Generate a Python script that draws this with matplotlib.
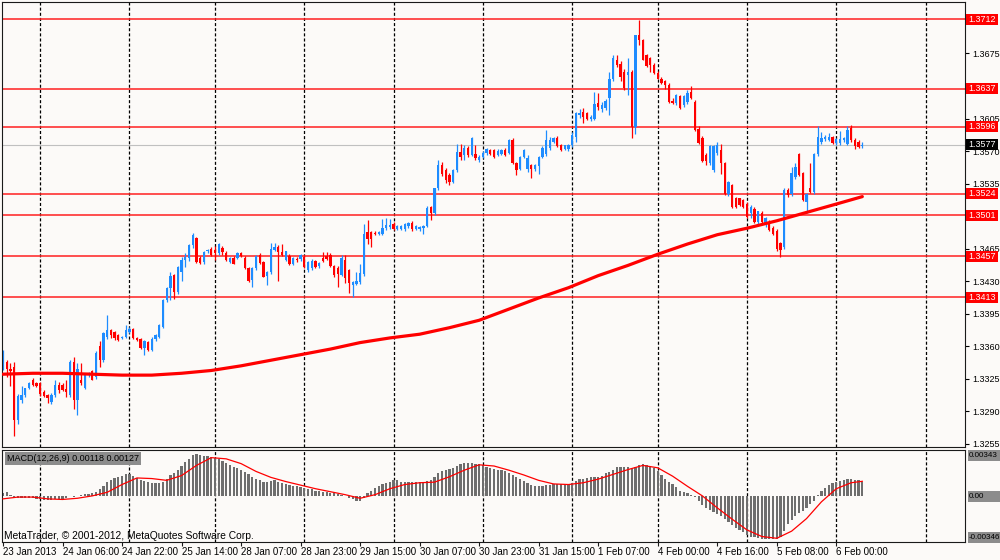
import matplotlib
matplotlib.use('Agg')
import matplotlib.pyplot as plt
from matplotlib.patches import Rectangle
from matplotlib.transforms import blended_transform_factory

plt.rcParams['font.family'] = ['Liberation Sans Narrow', 'Liberation Sans', 'DejaVu Sans']
plt.rcParams['lines.scale_dashes'] = False

# ---------------- data (prices in pips above 1.3000) ----------------
BASE = 1.3
opens = [336,343,336,338,281,302,308,315,324,320,320,311,308,300,308,318,318,314,308,343,
         302,324,315,329,333,327,360,345,370,377,375,372,369,370,375,379,369,368,358,365,
         356,368,370,381,410,423,437,418,440,453,455,469,476,455,451,462,465,464,460,466,
         460,451,455,455,460,455,444,431,444,458,451,436,440,464,467,461,453,457,449,454,
         454,456,442,444,452,446,455,457,458,446,444,437,453,442,426,427,429,438,483,483,
         482,481,481,487,488,492,486,486,486,489,493,486,486,487,489,510,503,530,555,550,
         544,537,550,569,566,573,566,567,560,564,568,571,571,566,567,571,568,582,557,551,
         564,551,555,551,554,564,567,573,580,584,577,572,572,576,585,609,612,611,604,604,
         622,615,616,627,648,668,664,655,652,655,596,695,689,673,670,663,654,648,645,641,
         624,622,629,619,623,634,623,594,584,566,557,550,568,571,557,524,533,519,519,517,
         513,503,508,494,503,490,494,487,484,471,467,528,524,542,567,546,515,530,526,567,
         580,583,582,585,579,579,582,578,595,582,580,575]
highs = [356,345,342,343,309,317,315,322,326,322,322,313,309,310,324,322,320,324,345,349,
         342,342,331,332,335,355,366,375,394,379,376,373,371,383,381,380,370,369,367,366,
         370,373,384,411,424,440,438,446,456,460,470,482,478,457,462,465,467,468,471,468,
         462,456,457,461,461,457,445,445,458,460,452,441,471,471,469,470,462,459,456,456,
         459,458,452,454,453,451,461,461,460,447,446,458,458,443,430,440,449,492,496,484,
         484,484,497,498,497,494,490,490,493,494,495,490,489,490,511,511,530,560,558,552,
         546,551,578,578,576,575,585,576,566,570,573,572,572,572,572,573,583,584,558,565,
         572,566,556,556,565,575,593,585,585,586,578,577,578,590,612,615,616,612,609,634,
         632,623,626,655,673,673,667,658,670,657,695,711,690,674,671,665,656,650,646,643,
         627,631,630,630,636,640,625,597,586,568,577,577,580,578,558,538,535,521,520,518,
         515,512,510,506,505,499,496,489,486,472,530,530,553,557,568,548,525,557,568,597,
         590,587,589,586,584,592,585,597,598,584,582,580]
lows = [334,327,317,263,276,299,306,314,317,316,307,305,299,298,306,310,312,305,306,293,
        286,318,314,327,324,325,338,343,368,369,367,366,368,369,374,368,366,357,351,355,
        355,366,369,380,408,410,411,416,430,445,452,466,450,449,449,460,457,453,458,458,
        452,450,448,454,456,443,429,424,442,449,434,426,438,463,430,457,452,447,447,451,
        452,444,440,442,444,444,451,453,445,434,424,436,428,417,413,426,427,436,470,467,
        480,480,480,485,486,485,485,485,484,487,484,485,484,481,488,496,501,528,543,536,
        533,536,548,560,560,564,565,560,558,562,566,566,563,565,566,565,567,556,544,550,
        563,548,541,549,545,562,565,571,579,574,570,571,570,574,580,606,600,603,602,603,
        614,612,614,609,645,660,645,636,630,584,588,684,668,660,655,653,647,642,637,622,
        621,620,615,617,621,626,592,578,558,555,555,547,566,545,523,522,509,509,511,509,
        498,498,493,492,493,488,484,480,462,456,465,521,522,540,543,516,503,525,524,565,
        578,581,581,578,577,577,580,577,580,572,573,573]
closes = [354,336,333,281,307,308,315,320,318,317,309,307,304,308,318,313,313,311,343,302,
          336,321,331,331,324,353,345,374,377,372,369,367,370,377,379,369,367,358,366,356,
          368,372,383,410,423,436,418,445,453,456,469,480,451,450,461,464,458,460,470,461,
          453,455,449,460,457,444,430,444,457,450,435,440,465,467,461,458,462,448,455,453,
          458,445,451,452,445,450,452,454,446,437,438,455,433,428,429,430,439,481,475,475,
          481,483,487,491,491,486,489,489,492,493,486,489,488,489,509,503,530,555,545,539,
          537,550,569,564,573,566,584,563,564,568,572,567,564,570,571,566,582,557,550,564,
          571,562,551,555,564,573,582,582,584,575,571,576,576,587,611,611,607,605,607,621,
          617,619,624,648,670,663,650,638,655,596,695,689,668,661,663,654,648,643,641,623,
          622,630,616,629,632,627,593,579,559,559,575,575,577,557,524,537,510,510,512,510,
          499,510,494,505,494,498,485,481,465,464,528,523,546,553,544,517,524,526,567,585,
          584,585,585,579,583,583,584,593,582,575,574,577]

ma_bars = [0, 8, 16, 24, 32, 40, 48, 56, 64, 72, 80, 88, 96, 104, 112, 120, 128, 136,
           144, 152, 160, 168, 176, 184, 192, 200, 208, 216, 224, 231]
ma_vals = [330, 331, 331, 330, 329, 329, 331, 334, 339, 345, 351, 357, 364, 369, 373, 380,
           388, 400, 412, 423, 436, 447, 459, 470, 480, 487, 495, 504, 513, 521]

# MACD histogram and signal in units of 0.0001
macd_hist = [3.0,3.5,1.0,-1.0,-1.5,-1.5,-1.0,-1.0,-1.5,-2.0,
             -2.5,-3.0,-3.0,-3.0,-2.5,-2.5,-2.0,-1.0,0.5,-0.5,
             0.5,1.0,2.0,2.0,2.5,4.0,6.0,8.5,12.0,14.0,
             15.5,16.5,17.5,18.5,18.5,17.0,15.5,14.0,13.0,12.0,
             11.5,11.0,11.5,12.5,15.0,18.0,20.0,22.0,25.5,28.5,
             31.0,34.5,35.5,35.0,34.0,33.5,33.0,32.0,31.0,29.5,
             28.0,26.5,25.0,23.5,22.0,20.5,18.5,16.5,15.0,14.0,
             12.5,12.0,13.0,13.5,12.5,11.5,10.5,10.0,9.0,8.5,
             8.0,7.0,6.5,6.0,5.0,4.5,4.0,3.5,3.0,2.5,
             2.0,1.5,0.5,-1.0,-2.5,-3.5,-4.0,-1.0,2.5,5.0,
             7.0,9.0,10.5,11.5,12.5,13.5,13.5,12.5,12.5,12.5,
             12.0,12.0,12.5,12.0,13.0,13.5,16.0,19.5,21.5,22.5,
             23.0,24.0,25.5,27.0,28.0,28.0,28.0,27.5,27.0,26.5,
             25.0,24.0,23.0,22.5,22.0,21.5,20.0,18.0,16.0,14.5,
             13.0,11.5,10.0,9.0,8.5,9.0,9.5,10.0,10.5,10.5,
             10.5,10.5,10.5,11.0,13.0,14.5,15.0,15.5,16.0,16.5,
             16.5,17.5,19.5,20.5,22.5,24.5,25.0,24.5,24.5,24.0,
             25.0,26.5,27.0,26.5,25.5,24.0,21.0,18.0,15.0,12.5,
             10.5,8.0,5.0,3.5,2.5,1.5,-0.5,-3.5,-7.0,-9.5,
             -11.5,-13.0,-14.5,-16.0,-18.5,-21.0,-24.0,-26.0,-28.0,-30.0,
             -32.0,-33.5,-34.0,-35.0,-35.5,-35.5,-35.5,-36.0,-36.0,-34.0,
             -29.0,-23.0,-19.5,-16.5,-14.0,-12.0,-9.5,-6.5,-3.5,1.5,
             5.0,7.5,9.5,11.0,12.5,13.0,13.5,14.5,14.5,14.0,
             13.5,11.8]
signal_bars = [0, 4, 8, 12, 16, 20, 24, 28, 32, 36, 40, 44, 48, 52, 56, 60, 64, 68, 72, 76,
               80, 84, 88, 92, 96, 100, 104, 108, 112, 116, 120, 124, 128, 132, 136, 140,
               144, 148, 152, 156, 160, 164, 168, 172, 176, 180, 184, 188, 192, 196, 200,
               204, 208, 212, 216, 220, 224, 228, 231]
signal_vals = [-2.0, -0.5, -0.5, -2.0, -2.5, -1.5, 0.5, 3.5, 10.0, 15.5, 15.0, 13.5, 17.5,
               26.0, 32.5, 31.5, 27.5, 21.0, 16.0, 12.5, 9.5, 6.5, 4.0, 1.5, -1.5, 1.5, 6.5,
               10.0, 11.5, 12.0, 16.5, 22.0, 26.5, 25.5, 22.0, 18.0, 13.5, 10.5, 10.0, 11.5,
               14.5, 18.5, 22.5, 26.0, 24.0, 17.0, 8.5, 0.5, -9.5, -19.0, -28.0, -33.5, -35.0,
               -29.0, -18.5, -4.5, 6.5, 11.5, 12.7]

levels = [1.3712, 1.3637, 1.3596, 1.3524, 1.3501, 1.3457, 1.3413]
bid = 1.3577
price_ticks = [1.3255, 1.3290, 1.3325, 1.3360, 1.3395, 1.3430, 1.3465, 1.3500,
               1.3535, 1.3570, 1.3605, 1.3640, 1.3675, 1.3710]
hidden_ticks = [1.3500, 1.3640, 1.3710]   # fully covered by the level boxes
macd_labels = [("0.00343", 34.3), ("0.00", 0.0), ("-0.00346", -34.6)]
macd_title = "MACD(12,26,9) 0.00118 0.00127"
date_bars = [0, 16, 32, 48, 64, 80, 96, 112, 128, 144, 160, 176, 192, 208, 224]
date_labels = ['23 Jan 2013', '24 Jan 06:00', '24 Jan 22:00', '25 Jan 14:00', '28 Jan 07:00',
               '28 Jan 23:00', '29 Jan 15:00', '30 Jan 07:00', '30 Jan 23:00', '31 Jan 15:00',
               '1 Feb 07:00', '4 Feb 00:00', '4 Feb 16:00', '5 Feb 08:00', '6 Feb 00:00']
grid_bars = [10, 34, 57, 81, 105, 129, 153, 176, 200, 224, 248]

# ---------------- style ----------------
BG = '#FCFAF8'
BULL = '#1E8CFF'
BEAR = '#FF0000'
W, H = 1000, 560


def rect(l, t, r, b):
    return [l / W, 1 - b / H, (r - l) / W, (b - t) / H]


fig = plt.figure(figsize=(10, 5.6), dpi=100)
fig.patch.set_facecolor(BG)
ax = fig.add_axes(rect(2, 2, 965, 447))
ax2 = fig.add_axes(rect(2, 450, 965, 542))
for a in (ax, ax2):
    a.set_facecolor(BG)
    a.set_xlim(-0.27, 258.6)
    for s in a.spines.values():
        s.set_color('#1a1a1a')
        s.set_linewidth(0.8)
ax.set_xticks([])
ax2.set_xticks(date_bars)
ax2.tick_params(axis='x', direction='out', length=3, width=0.8, color='#1a1a1a',
                labelbottom=False)

ax.set_ylim(1.32517, 1.37303)
ax2.set_ylim(-38.1, 38.9)

# pixel helpers for the right-hand label boxes
AX_W = 963.0
BOX_X0 = (966 - 2) / AX_W
BOX_W = (998 - 966) / AX_W
BOX_XC = BOX_X0 + BOX_W / 2
FIG_RIGHT = (1000 - 2) / AX_W
main_per_px = (1.37303 - 1.32517) / 445.0
macd_per_px = (38.9 + 38.1) / 92.0
BOX_HPX = 11

# grid
for b in grid_bars:
    for a in (ax, ax2):
        a.axvline(b, color='black', lw=0.9, linestyle=(0, (2.2, 1.5)), zorder=1)

# levels
for lv in levels:
    ax.axhline(lv, color='#FF2020', lw=1.1, zorder=1.5)
ax.axhline(bid, color='#C0C0C0', lw=0.8, zorder=1.4)

# candles
px = lambda v: BASE + v / 10000.0
idx = list(range(len(closes)))
for i in idx:
    o, h, l, c = px(opens[i]), px(highs[i]), px(lows[i]), px(closes[i])
    col = BULL if c >= o else BEAR
    ax.vlines(i, l, h, color=col, lw=0.9, zorder=2)
    bot = min(o, c)
    hgt = max(abs(c - o), 0.00006)
    ax.bar(i, hgt, bottom=bot, width=0.62, color=col, linewidth=0, zorder=2.1)

# moving average
ax.plot(ma_bars, [px(v) for v in ma_vals], color='#FF0000', lw=2.3,
        solid_capstyle='round', zorder=3)

# price axis
ax.yaxis.tick_right()
ax.set_yticks(price_ticks)
ax.set_yticklabels(['' if v in hidden_ticks else f'{v:.4f}' for v in price_ticks])
ax.tick_params(axis='y', direction='out', length=3, width=0.8, pad=2,
               labelsize=6.5, colors='black')

tr = blended_transform_factory(ax.transAxes, ax.transData)


def price_box(value, fc):
    hh = BOX_HPX * main_per_px
    ax.add_patch(Rectangle((BOX_X0, value - hh / 2), BOX_W, hh, transform=tr,
                           fc=fc, ec='none', zorder=5, clip_on=False))
    ax.text(BOX_XC, value, f'{value:.4f}', transform=tr, ha='center', va='center',
            color='white', fontsize=6.4, zorder=6, clip_on=False)


for lv in levels:
    price_box(lv, '#FF0000')
price_box(bid, 'black')

# MACD panel
ax2.bar(idx, macd_hist, width=0.6, color='#6e6e6e', linewidth=0, zorder=2)
ax2.plot(signal_bars, signal_vals, color='#FF0000', lw=0.9, zorder=3)
ax2.set_yticks([])
tr2 = blended_transform_factory(ax2.transAxes, ax2.transData)
for txt, v in macd_labels:
    hh = BOX_HPX * macd_per_px
    x0 = BOX_X0 + 0.002
    ax2.add_patch(Rectangle((x0, v - hh / 2), FIG_RIGHT - x0, hh,
                            transform=tr2, fc='#8c8c8c', ec='none', zorder=5,
                            clip_on=False))
    ax2.text(BOX_X0 + 0.0028, v, txt, transform=tr2, ha='left', va='center',
             color='black', fontsize=5.8, zorder=6, clip_on=False)
ax2.text(0.005, 0.905, macd_title, transform=ax2.transAxes, ha='left', va='center',
         color='black', fontsize=6.5, zorder=6,
         bbox=dict(boxstyle='square,pad=0.2', fc='#8c8c8c', ec='none'))
ax2.text(0.002, 0.065, 'MetaTrader, \u00a9 2001-2012, MetaQuotes Software Corp.',
         transform=ax2.transAxes, ha='left', va='center', color='black',
         fontsize=7.4, zorder=6)

# date labels
trd = blended_transform_factory(ax2.transData, fig.transFigure)
for b, lab in zip(date_bars, date_labels):
    ax2.text(b, 1 - 552 / H, lab, transform=trd, ha='left', va='center',
             color='black', fontsize=7, clip_on=False)

fig.savefig('out.png', dpi=100, facecolor=BG)
